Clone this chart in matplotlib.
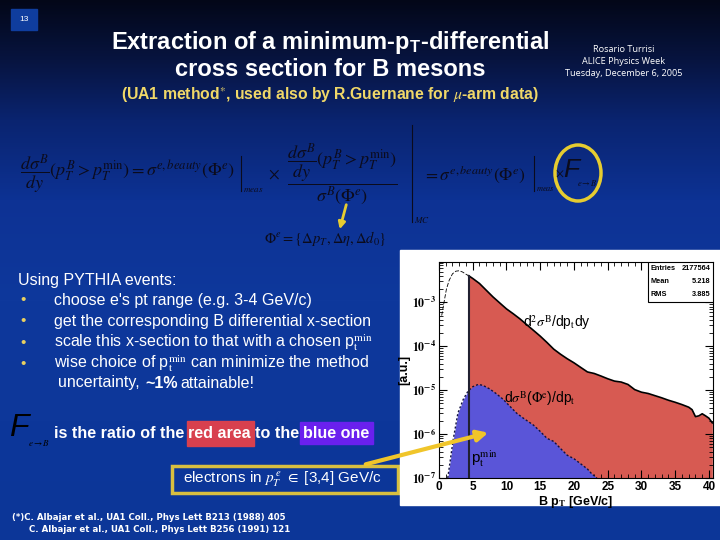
import matplotlib
matplotlib.use("Agg")
import matplotlib.pyplot as plt
import numpy as np
from matplotlib.patches import Rectangle, Ellipse
from matplotlib.ticker import MultipleLocator, NullFormatter

plt.rcParams['font.family'] = ['Liberation Sans', 'DejaVu Sans']
plt.rcParams['mathtext.fontset'] = 'stix'

# --- data (B pT spectrum, arbitrary units) ---
pt_low = [0.4, 0.8, 1.1, 1.5, 2.0, 2.5, 3.0, 3.5, 4.0, 4.4]
sig_low = [5.0e-4, 1.12e-3, 2.0e-3, 3.16e-3, 4.47e-3, 5.13e-3, 5.25e-3, 4.9e-3, 4.37e-3, 4.03e-3]

pt_red = [4.4, 5, 6, 7, 8, 9, 10, 11, 12, 13, 14, 15, 16, 17, 18, 19, 20,
          21, 22, 23, 24, 25, 26, 27, 28, 29, 30, 31, 32, 33, 34, 35, 36,
          37, 37.5, 38, 38.5, 39, 39.5, 40, 40.5]
sig_red = [4.03e-3, 3.5e-3, 2.69e-3, 1.89e-3, 1.33e-3, 9.7e-4, 7.1e-4, 5.5e-4,
           4.2e-4, 3.1e-4, 2.3e-4, 1.7e-4, 1.22e-4, 8.6e-5, 6.6e-5, 5.2e-5,
           4.2e-5, 3.3e-5, 2.6e-5, 2.4e-5, 2.1e-5, 1.82e-5, 1.61e-5, 1.53e-5,
           1.35e-5, 1.03e-5, 9.0e-6, 8.4e-6, 7.5e-6, 6.7e-6, 5.9e-6, 5.3e-6,
           4.7e-6, 4.1e-6, 3.6e-6, 2.5e-6, 2.6e-6, 2.9e-6, 2.6e-6, 2.3e-6, 1.8e-6]

pt_blue = [1.3, 2.1, 2.8, 3.6, 4.3, 5.0, 5.8, 6.5, 7.5, 8.5, 9.5, 10.5, 11.5,
           12.5, 14, 15, 16, 17, 18, 19, 20, 21, 22, 22.6, 23.4]
sig_blue = [1e-7, 7.4e-7, 3.0e-6, 6.2e-6, 9.5e-6, 1.2e-5, 1.35e-5, 1.29e-5,
            1.07e-5, 8.3e-6, 6.2e-6, 4.3e-6, 3.0e-6, 2.3e-6, 1.6e-6, 1.15e-6,
            8.0e-7, 6.8e-7, 4.7e-7, 3.3e-7, 2.75e-7, 2.1e-7, 1.6e-7, 1.26e-7, 1e-7]

pt_min = 4.4
xticks = [0, 5, 10, 15, 20, 25, 30, 35, 40]
yticks = [1e-7, 1e-6, 1e-5, 1e-4, 1e-3]
ytick_labels = [r"$\mathbf{10^{-7}}$", r"$\mathbf{10^{-6}}$", r"$\mathbf{10^{-5}}$",
                r"$\mathbf{10^{-4}}$", r"$\mathbf{10^{-3}}$"]
stats = [("Entries", "2177564"), ("Mean", "5.218"), ("RMS", "3.885")]

bullets = ["choose e's pt range (e.g. 3-4 GeV/c)",
           "get the corresponding B differential x-section",
           r"scale this x-section to that with a chosen p$_{\rm t}^{\rm min}$",
           r"wise choice of p$_{\rm t}^{\rm min}$ can minimize the method"]
refs = ["(*)C. Albajar et al., UA1 Coll., Phys Lett B213 (1988) 405",
        "C. Albajar et al., UA1 Coll., Phys Lett B256 (1991) 121"]
info = ["Rosario Turrisi", "ALICE Physics Week", "Tuesday, December 6, 2005"]

fig = plt.figure(figsize=(7.2, 5.4), dpi=100)

# slide background
bg = fig.add_axes([0, 0, 1, 1])
bg.set_xlim(0, 720)
bg.set_ylim(540, 0)
bg.axis('off')
stops_y = [0, 60, 120, 200, 300, 540]
stops_c = [(3, 7, 24), (7, 20, 64), (10, 36, 112), (13, 50, 148), (14, 56, 156), (12, 54, 152)]
yy = np.arange(540)
grad = np.zeros((540, 1, 3))
for k in range(3):
    grad[:, 0, k] = np.interp(yy, stops_y, [c[k] for c in stops_c]) / 255.
bg.imshow(grad, extent=[0, 720, 540, 0], aspect='auto', zorder=0)

# page number
bg.add_patch(Rectangle((11, 9), 26, 21, color='#0f3d9e', zorder=1))
bg.text(24, 19.5, "13", color='white', fontsize=6, ha='center', va='center', zorder=2)

# title
bg.text(330, 42, r"Extraction of a minimum-p$_{\mathregular{T}}$-differential", color='white',
        fontsize=17, fontweight='bold', ha='center', va='center')
bg.text(330, 70, "cross section for B mesons", color='white',
        fontsize=17, fontweight='bold', ha='center', va='center')
bg.text(330, 95, r"(UA1 method$^{*}$, used also by R.Guernane for $\mu$-arm data)",
        color='#f0d868', fontsize=11.3, fontweight='bold', ha='center', va='center')
for i, s in enumerate(info):
    bg.text(624, 50 + i * 12, s, color='white', fontsize=6.6, ha='center', va='center',
            family='Open Sans')

# formula
fc = '#0b0b1c'
bg.text(20, 174, r"$\dfrac{d\sigma^B}{dy}(p_T^B > p_T^{\min}) = \sigma^{e,beauty}(\Phi^e)$",
        color=fc, fontsize=13, ha='left', va='center')
bg.plot([241, 241], [156, 191], color=fc, lw=0.8)
bg.text(243, 189, r"$meas$", color=fc, fontsize=6.5, ha='left', va='center')
bg.text(268, 174, r"$\times$", color=fc, fontsize=12, ha='left', va='center')
bg.text(342, 174, r"$\dfrac{\dfrac{d\sigma^B}{dy}(p_T^B > p_T^{\min})}{\sigma^B(\Phi^e)}$",
        color=fc, fontsize=13, ha='center', va='center')
bg.plot([412, 412], [125, 222], color=fc, lw=0.8)
bg.text(414, 220, r"$MC$", color=fc, fontsize=6.5, ha='left', va='center')
bg.text(423, 174, r"$= \sigma^{e,beauty}(\Phi^e)$", color=fc, fontsize=12.5, ha='left', va='center')
bg.plot([534, 534], [156, 191], color=fc, lw=0.8)
bg.text(536, 189, r"$meas$", color=fc, fontsize=6, ha='left', va='center')
bg.text(555, 174, r"$\times$", color=fc, fontsize=9, ha='left', va='center')
bg.text(563, 170, "F", color=fc, fontsize=19, style='italic', ha='left', va='center')
bg.text(577, 183, r"$e\rightarrow B$", color=fc, fontsize=6, ha='left', va='center')
bg.add_patch(Ellipse((578, 173), 46, 56, fill=False, edgecolor='#e6cc30', lw=2.5))
bg.annotate('', xy=(339, 232), xytext=(347, 202),
            arrowprops=dict(arrowstyle='-|>', color='#e6cc30', lw=2, mutation_scale=10))
bg.text(325, 239, r"$\Phi^e = \{\Delta p_T, \Delta\eta, \Delta d_0\}$", color=fc,
        fontsize=10.5, ha='center', va='center')

# bullet list
bg.text(18, 280, "Using PYTHIA events:", color='white', fontsize=11.5, ha='left', va='center')
for i, s in enumerate(bullets):
    y = 300 + i * 21.3
    bg.text(20, y, u"\u2022", color='#e8d060', fontsize=11, ha='left', va='center')
    bg.text(54, y, s, color='white', fontsize=11.5, ha='left', va='center')
bg.text(58, 383, "uncertainty,", color='white', fontsize=11.5, ha='left', va='center')
bg.text(145, 383, "~1%", color='white', fontsize=11.5, fontweight='bold', ha='left', va='center')
bg.text(180, 383, "attainable!", color='white', fontsize=11.5, ha='left', va='center')

# ratio sentence
bg.text(9, 428, "F", color='black', fontsize=23, style='italic', ha='left', va='center')
bg.text(28, 443, r"$e\rightarrow B$", color='black', fontsize=6.5, ha='left', va='center')
bg.add_patch(Rectangle((187, 421), 67, 25, color='#d8404e'))
bg.add_patch(Rectangle((300, 422), 73, 22, color='#6a20ee'))
for s, x in [("is the ratio of the", 54), ("red area", 188), ("to the", 255), ("blue one", 303)]:
    bg.text(x, 434, s, color='white', fontsize=11.6, fontweight='bold', ha='left', va='center')

# electrons box
bg.add_patch(Rectangle((172, 466), 226, 27, facecolor='none', edgecolor='#d8bf40', lw=2.5))
bg.text(183, 479.5, r"electrons in $p_T^{\,e}$ $\in$ [3,4] GeV/c", color='white',
        fontsize=11, ha='left', va='center')

# references
bg.text(12, 518, refs[0], color='white', fontsize=6.2, fontweight='bold', family='DejaVu Sans',
        ha='left', va='center')
bg.text(29, 530, refs[1], color='white', fontsize=6.2, fontweight='bold', family='DejaVu Sans',
        ha='left', va='center')

# white panel for the histogram
bg.add_patch(Rectangle((400, 250), 320, 255, color='white', zorder=3))

# histogram
ax = fig.add_axes([439 / 720, 1 - 478 / 540, 274 / 720, 216 / 540])
ax.set_yscale('log')
ax.fill_between(pt_red, sig_red, 1e-7, color='#d75a52', lw=0, zorder=1)
ax.plot(pt_red, sig_red, color='black', lw=1.2, zorder=3)
ax.plot(pt_low, sig_low, color='black', lw=0.6, ls=(0, (5, 2)), zorder=3)
ax.fill_between(pt_blue, sig_blue, 1e-7, color='#5a55d8', lw=0, zorder=2)
ax.plot(pt_blue, sig_blue, color='#101040', lw=1.0, ls=(0, (1.5, 1.5)), zorder=3)
ax.plot([pt_min, pt_min], [1e-7, sig_red[0]], color='#202030', lw=1.5, zorder=4)

ax.set_xlim(0, 40.6)
ax.set_ylim(1e-7, 8.3e-3)
ax.set_xticks(xticks)
ax.set_xticklabels([str(v) for v in xticks], fontsize=8.5, fontweight='bold')
ax.xaxis.set_minor_locator(MultipleLocator(1))
ax.set_yticks(yticks)
ax.set_yticklabels(ytick_labels, fontsize=8.5)
ax.yaxis.set_minor_formatter(NullFormatter())
ax.tick_params(which='both', direction='in', top=True, right=True, pad=2)
ax.tick_params(which='major', length=6)
ax.tick_params(which='minor', length=3)
ax.set_xlabel(r"B p$_{\mathbf{T}}$ [GeV/c]", fontsize=9, fontweight='bold', labelpad=1)
ax.set_ylabel("[a.u.]", fontsize=9, fontweight='bold', labelpad=1)

ax.text(12.4, 3.4e-4, r"d$^2\sigma^{\rm B}$/dp$_{\rm t}$dy", fontsize=10, va='center')
ax.text(9.6, 6.6e-6, r"d$\sigma^{\rm B}$($\Phi^{\rm e}$)/dp$_{\rm t}$", fontsize=10, va='center')
ax.text(4.8, 2.7e-7, r"p$_{\rm t}^{\rm min}$", fontsize=11, va='center')

# statistics box
ax.add_patch(Rectangle((0.762, 0.815), 0.238, 0.185, transform=ax.transAxes,
                       facecolor='white', edgecolor='black', lw=0.8, zorder=5))
for i, (k, v) in enumerate(stats):
    yb = 0.97 - i * 0.06
    ax.text(0.772, yb, k, transform=ax.transAxes, fontsize=5.3, fontweight='bold', va='center', zorder=6)
    ax.text(0.99, yb, v, transform=ax.transAxes, fontsize=5.3, fontweight='bold', va='center',
            ha='right', zorder=6)

# overlay arrow from the electrons box to the plot
top = fig.add_axes([0, 0, 1, 1], zorder=10)
top.set_xlim(0, 720)
top.set_ylim(540, 0)
top.axis('off')
top.patch.set_alpha(0)
top.annotate('', xy=(491, 432), xytext=(363, 465),
             arrowprops=dict(arrowstyle='-|>', color='#f0c52a', lw=3, mutation_scale=16))

fig.savefig("out.png", dpi=100)
